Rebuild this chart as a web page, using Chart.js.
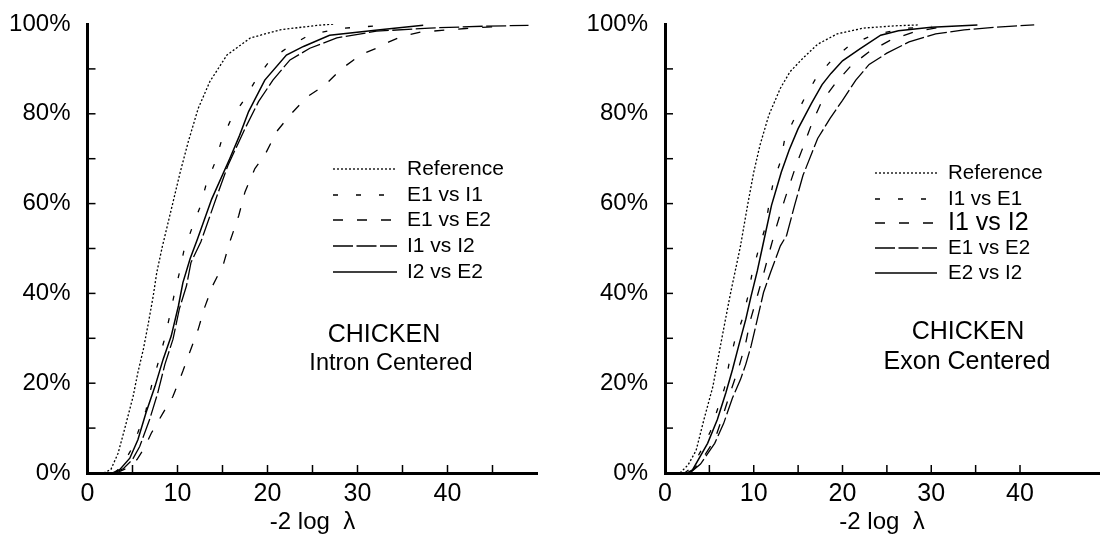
<!DOCTYPE html>
<html>
<head>
<meta charset="utf-8">
<script src="https://cdn.jsdelivr.net/npm/chart.js@4.4.1/dist/chart.umd.min.js"></script>
<style>
  html, body { margin: 0; padding: 0; background: #fff; }
  #wrap { position: relative; width: 1105px; height: 546px; overflow: hidden; }
  .panel { position: absolute; top: 0; height: 546px; }
  #left { left: 0; width: 552px; }
  #right { left: 552px; width: 553px; }
</style>
</head>
<body>
<div id="wrap">
  <div class="panel" id="left"><canvas id="intron"></canvas></div>
  <div class="panel" id="right"><canvas id="exon"></canvas></div>
</div>
<script>
const FONT = "'Liberation Sans', Arial, Helvetica, sans-serif";

// cumulative % of sites vs -2 log lambda as [x, %]
// left panel: intron centered
const intronReference = [[1.8, 0], [2.6, 0.8], [3.4, 4.4], [4.1, 9.6], [5.06, 17], [5.6, 22.4], [6.2, 27.5], [6.7, 32.7], [7.3, 39.4], [7.7, 44.7], [8.3, 50.3], [9.5, 60.3], [10.3, 67], [11.2, 73.8], [12.3, 81.2], [13.6, 87.2], [15.5, 93.1], [18.1, 96.9], [21.4, 98.7], [25.5, 99.7], [27.5, 100]];
const intronE1vsI1 = [[3, 0], [3.8, 1.5], [4.8, 5], [5.6, 9], [6.5, 14], [7.1, 19.3], [7.8, 24.2], [8.5, 29.4], [9.05, 34.2], [9.6, 39.4], [10.2, 44.5], [10.7, 49.4], [11.6, 54.5], [12.5, 59.2], [13.2, 64.4], [14.2, 69.3], [14.9, 74.1], [16, 79], [17.5, 83.4], [18.8, 87.9], [20.3, 92], [22.4, 95], [24.7, 97.6], [28, 99], [33, 99.7]];
const intronE1vsE2 = [[3.2, 0], [4.5, 1.2], [5.5, 3], [6.3, 5.5], [7.1, 8.9], [8.4, 13.4], [9.5, 17.1], [10.6, 22.7], [11.4, 27.1], [12.3, 32], [13, 36.8], [13.9, 41.7], [15.1, 46.5], [15.8, 51.4], [16.8, 57.3], [17.5, 62.6], [18.6, 67.8], [19.7, 70.8], [21, 76], [22.5, 79.7], [24.4, 83.8], [26.4, 86.4], [28.1, 89.8], [30.3, 93.1], [32.1, 94.6], [33.5, 96], [35, 97.3], [37, 98.2], [42, 99], [46, 99.5]];
const intronI1vsI2 = [[3, 0], [4, 1], [5, 3], [5.8, 5.9], [6.9, 11.9], [7.8, 17.8], [8.6, 24.2], [9.5, 29.8], [10.2, 36.5], [11, 41.7], [11.5, 46.9], [12.6, 51.5], [14.4, 61.8], [15.6, 68.5], [17.5, 76.7], [19, 82.7], [20.6, 87.5], [22.5, 92], [24.7, 94.6], [27.7, 96.9], [32.1, 98.4], [38, 99.1], [44, 99.5], [49, 99.7]];
const intronI2vsE2 = [[2.8, 0], [3.6, 0.8], [4.7, 3.3], [5.6, 7.4], [6.5, 13.4], [7.5, 19.3], [8.4, 25.3], [9.3, 30.5], [10.1, 37.2], [10.6, 42.4], [11.4, 47.7], [12.2, 52], [13.8, 61], [15.8, 70], [16.9, 75.2], [17.9, 80.5], [19.7, 87.5], [22.1, 93.1], [24, 95], [26.9, 97.5], [32.5, 98.7], [37.3, 99.7]];

// right panel: exon centered
const exonReference = [[1.7, 0], [2.6, 1.8], [3.5, 5], [4.4, 12], [5.4, 19.3], [6.1, 26.8], [6.85, 34.6], [7.4, 40.2], [8, 45.8], [8.5, 50.5], [9.3, 59.6], [10, 67], [10.7, 73], [11.7, 79.7], [13, 85.7], [14.1, 89.4], [15.6, 92.5], [17.2, 95.5], [19.4, 97.8], [22.4, 99.1], [26, 99.6], [28.7, 99.8]];
const exonI1vsE1 = [[2.2, 0], [3, 1.2], [4.1, 5.1], [5.1, 9.2], [5.9, 14.1], [6.7, 18.9], [7.2, 24.2], [7.85, 29.4], [8.7, 34.2], [9.3, 39], [9.8, 44.3], [10.5, 49.5], [11.3, 54.7], [11.7, 59.6], [12.2, 64.8], [13, 69.3], [13.5, 74.5], [14.6, 79], [15.7, 83.4], [17, 87.9], [18.8, 92], [20.9, 95.4], [23.5, 97.6], [27, 99], [30, 99.5]];
const exonI1vsI2 = [[2.8, 0], [4, 2.5], [5.6, 7.4], [6.5, 12.6], [7.4, 18.2], [8.3, 23.4], [9.1, 29], [9.6, 33.9], [10.4, 39.4], [11.1, 44.3], [11.8, 49.5], [12.5, 54.5], [13.5, 61], [14.8, 68.7], [15.6, 72.8], [16.5, 77.6], [17.6, 82.5], [19.2, 86.8], [21, 90.8], [23, 93.8], [25.3, 96.3], [28, 98.2], [31, 99.3]];
const exonE1vsE2 = [[2.8, 0], [4, 2], [5.6, 6.6], [6.6, 11], [7.6, 16.7], [8.5, 20.8], [9.1, 24.2], [9.7, 28.3], [10.4, 34.2], [11.1, 40.2], [11.9, 44.7], [13, 50.6], [13.7, 52.9], [14.6, 59.6], [15.55, 66.3], [17.2, 74.5], [18.6, 79], [20, 83], [21.5, 87.5], [23, 91], [25, 93.5], [27.5, 96], [30.5, 97.8], [33.7, 98.7], [37.4, 99.3], [41.6, 99.8]];
const exonE2vsI2 = [[2.5, 0], [3.1, 0.7], [4.8, 6.6], [5.9, 11.9], [6.85, 17.8], [7.6, 23], [8.3, 28.3], [9.1, 34.2], [9.7, 39.4], [10.4, 45], [11, 50.5], [12, 59.6], [13.1, 67], [14, 72], [15, 76.7], [16.5, 82.3], [17.7, 86.5], [18.7, 89], [20, 91.8], [22, 94.5], [24.3, 97.5], [26.3, 98.5], [30, 99.3], [35.2, 99.8]];

const intronLabels = ["Reference", "E1 vs I1", "E1 vs E2", "I1 vs I2", "I2 vs E2"];
const exonLabels = ["Reference", "I1 vs E1", "I1 vs I2", "E1 vs E2", "E2 vs I2"];

const xTickLabels = [0, 10, 20, 30, 40];
const yTickLabels = [0, 20, 40, 60, 80, 100];

// dotted, sparse short dash, medium dash, long dash, solid
const dashes = [[2, 2], [5, 18], [10, 14], [20, 3.5], []];

// inward tick marks, line key and panel caption
const panelDecor = {
  id: "panelDecor",
  afterDraw(chart, args, opts) {
    const ctx = chart.ctx;
    const xs = chart.scales.x;
    const ys = chart.scales.y;
    const area = chart.chartArea;
    ctx.save();
    ctx.strokeStyle = "#000";
    ctx.lineWidth = 1.5;
    ctx.setLineDash([]);
    xs.ticks.forEach((t) => {
      if (t.value <= 0 || t.value % 5 !== 0 || t.value >= xs.max) return;
      const px = xs.getPixelForValue(t.value);
      ctx.beginPath();
      ctx.moveTo(px, area.bottom);
      ctx.lineTo(px, area.bottom - 8);
      ctx.stroke();
    });
    ys.ticks.forEach((t) => {
      if (t.value <= 0 || t.value >= ys.max) return;
      const py = ys.getPixelForValue(t.value);
      ctx.beginPath();
      ctx.moveTo(area.left, py);
      ctx.lineTo(area.left + 8, py);
      ctx.stroke();
    });

    ctx.fillStyle = "#000";
    ctx.textBaseline = "middle";
    chart.data.datasets.forEach((ds, i) => {
      const row = opts.rows[i];
      ctx.lineWidth = ds.borderWidth;
      ctx.setLineDash(ds.borderDash || []);
      ctx.beginPath();
      ctx.moveTo(opts.lineFrom, row);
      ctx.lineTo(opts.lineTo, row);
      ctx.stroke();
      ctx.textAlign = "left";
      ctx.font = opts.sizes[i] + "px " + FONT;
      ctx.fillText(ds.label, opts.textX, row);
    });

    ctx.textAlign = "center";
    opts.note.forEach((n) => {
      ctx.font = n.size + "px " + FONT;
      ctx.fillText(n.text, n.x, n.y);
    });
    ctx.restore();
  }
};

function toPoints(pairs) {
  return pairs.map(([x, y]) => ({ x, y }));
}

function makeDatasets(labels, series) {
  return series.map((s, i) => ({
    label: labels[i],
    data: toPoints(s),
    borderColor: "#000",
    borderWidth: i === 4 ? 1.5 : 1.3,
    borderDash: dashes[i],
    showLine: true,
    fill: false,
    pointRadius: 0,
    tension: 0
  }));
}

function makeOptions(xMax, yAxisWidth, padRight, key) {
  return {
    responsive: true,
    maintainAspectRatio: false,
    animation: false,
    layout: { padding: { top: 24, right: padRight, left: 0, bottom: 0 } },
    plugins: {
      legend: { display: false },
      tooltip: { enabled: false },
      panelDecor: key
    },
    scales: {
      x: {
        type: "linear",
        min: 0,
        max: xMax,
        grid: { display: false, drawTicks: false },
        border: { display: true, color: "#000", width: 3 },
        ticks: {
          stepSize: 5,
          autoSkip: false,
          maxRotation: 0,
          padding: 6,
          color: "#000",
          font: { family: FONT, size: 25 },
          callback: (v) => (xTickLabels.includes(v) ? String(v) : "")
        },
        title: {
          display: true,
          text: "-2 log  \u03bb",
          color: "#000",
          font: { family: FONT, size: 24 },
          padding: { top: 0, bottom: 9 }
        },
        afterFit: (s) => { s.height = 73; }
      },
      y: {
        min: 0,
        max: 100,
        grid: { display: false, drawTicks: false },
        border: { display: true, color: "#000", width: 3 },
        ticks: {
          stepSize: 10,
          padding: 17,
          color: "#000",
          font: { family: FONT, size: 24 },
          callback: (v) => (yTickLabels.includes(v) ? v + "%" : "")
        },
        afterFit: (s) => {
          s.width = yAxisWidth;
          // let the layout padding alone decide where the plot top sits
          s.paddingTop = 0;
          s.paddingBottom = 0;
        }
      }
    }
  };
}

new Chart(document.getElementById("intron"), {
  type: "scatter",
  data: {
    datasets: makeDatasets(intronLabels, [intronReference, intronE1vsI1, intronE1vsE2, intronI1vsI2, intronI2vsE2])
  },
  options: makeOptions(50, 87.5, 14.5, {
    lineFrom: 333, lineTo: 397, textX: 407,
    rows: [169, 195, 220, 246, 272],
    sizes: [21, 21, 21, 21, 21],
    note: [
      { text: "CHICKEN", x: 384, y: 335, size: 25 },
      { text: "Intron Centered", x: 391, y: 364, size: 23.5 }
    ]
  }),
  plugins: [panelDecor]
});

new Chart(document.getElementById("exon"), {
  type: "scatter",
  data: {
    datasets: makeDatasets(exonLabels, [exonReference, exonI1vsE1, exonI1vsI2, exonE1vsE2, exonE2vsI2])
  },
  options: makeOptions(48.9, 113, 0, {
    lineFrom: 323, lineTo: 385, textX: 396,
    rows: [173, 199, 223, 248, 273],
    sizes: [20.5, 20.5, 25, 20.5, 20.5],
    note: [
      { text: "CHICKEN", x: 416, y: 332, size: 25 },
      { text: "Exon Centered", x: 415, y: 362, size: 25 }
    ]
  }),
  plugins: [panelDecor]
});
</script>
</body>
</html>
